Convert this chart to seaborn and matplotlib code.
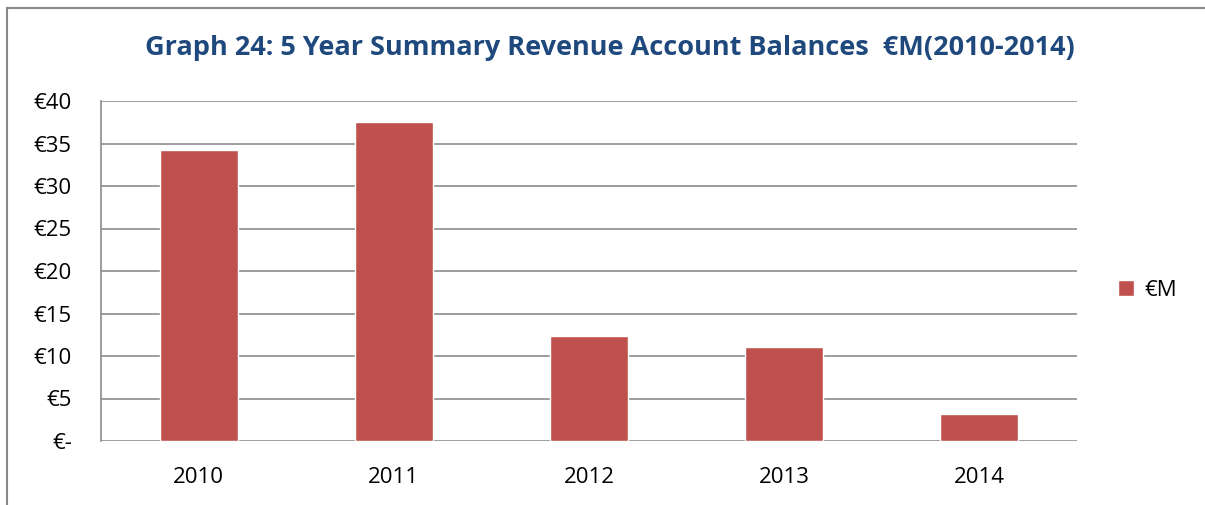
import pandas as pd
import seaborn as sns
import matplotlib.pyplot as plt
from matplotlib.patches import Rectangle

years = ['2010', '2011', '2012', '2013', '2014']
balances = [34.2, 37.5, 12.3, 11.1, 3.2]
tick_values = [0, 5, 10, 15, 20, 25, 30, 35, 40]
tick_labels = ['€-', '€5', '€10', '€15', '€20', '€25', '€30', '€35', '€40']

df = pd.DataFrame({'Year': years, '€M': balances})

sns.set_style('white')
plt.rcParams['font.family'] = ['Open Sans', 'DejaVu Sans']

fig = plt.figure(figsize=(12.05, 5.05), dpi=100)
W, H = 1205, 505
ax = fig.add_axes([101 / W, 1 - 441 / H, (1077 - 101) / W, (441 - 101) / H])

sns.barplot(data=df, x='Year', y='€M', color='#C0504D', width=0.4,
            saturation=1, ax=ax, label='€M', zorder=3)

ax.set_ylim(0, 40)
ax.set_xlim(-0.5, 4.5)
ax.set_yticks(tick_values)
ax.set_yticklabels(tick_labels)
ax.yaxis.grid(True, color='#8c8c8c', linewidth=1.2, zorder=0)
ax.set_axisbelow(True)
for s in ['top', 'right', 'bottom']:
    ax.spines[s].set_visible(False)
ax.spines['left'].set_color('#8c8c8c')
ax.spines['left'].set_linewidth(1.2)
ax.tick_params(axis='y', length=0, pad=21, labelsize=16, labelcolor='black')
ax.tick_params(axis='x', length=0, pad=19, labelsize=16, labelcolor='black')
ax.set_xlabel('')
ax.set_ylabel('')

leg = ax.legend(loc='center left', bbox_to_anchor=(1098 / W, 1 - 290 / H),
                bbox_transform=fig.transFigure, frameon=False, fontsize=16,
                handlelength=0.7, handleheight=0.7, handletextpad=0.5)
for t in leg.get_texts():
    t.set_color('black')

fig.text((145 + 1075) / 2 / W, 1 - 48 / H,
         'Graph 24: 5 Year Summary Revenue Account Balances  €M(2010-2014)',
         ha='center', va='center', fontsize=19.5, fontweight='bold', color='#1F497D')

fig.patches.append(Rectangle((7 / W, -0.1), 1.2, 1 - 8 / H + 0.1, transform=fig.transFigure,
                             fill=False, edgecolor='#888888', linewidth=1.5))

fig.savefig('out.png', dpi=100)
